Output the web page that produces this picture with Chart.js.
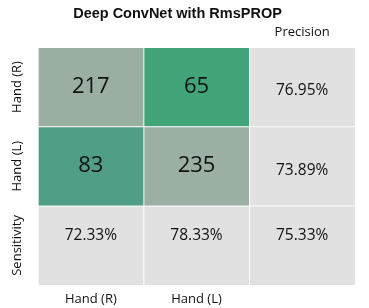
<!DOCTYPE html>
<html>
<head>
<meta charset="utf-8">
<script src="https://cdn.jsdelivr.net/npm/chart.js@4.4.0/dist/chart.umd.min.js"></script>
<style>
  html, body { margin: 0; padding: 0; background: #fff; }
  #wrap { width: 369px; height: 308px; }
</style>
</head>
<body>
<div id="wrap"><canvas id="cm"></canvas></div>
<script>
// ── Data ──
const rowLabels = ['Hand (R)', 'Hand (L)', 'Sensitivity'];
const colLabels = ['Hand (R)', 'Hand (L)', ''];
const topLabels = ['', '', 'Precision'];
const countsR = [217, 65];
const countsL = [83, 235];
const precision = [76.95, 73.89];
const sensitivity = [72.33, 78.33];
const accuracy = 75.33;

// cell fill per row (top to bottom)
const cellColors = [
  ['#9aafa2', '#42a57a', '#e1e1e1'],
  ['#519e88', '#9bafa3', '#e1e1e1'],
  ['#e1e1e1', '#e1e1e1', '#e1e1e1']
];

function cellText(row, col) {
  if (row < 2 && col < 2) return String(row === 0 ? countsR[col] : countsL[col]);
  if (row < 2) return precision[row].toFixed(2) + '%';
  if (col < 2) return sensitivity[col].toFixed(2) + '%';
  return accuracy.toFixed(2) + '%';
}

// stacked from bottom: dataset 0 = bottom row
const datasets = [2, 1, 0].map(row => ({
  label: rowLabels[row],
  data: colLabels.map(() => 1),
  backgroundColor: cellColors[row],
  borderColor: '#ffffff',
  borderWidth: { top: 1, left: 1, right: 0, bottom: 0 },
  borderSkipped: false,
  categoryPercentage: 1,
  barPercentage: 1,
  rowIndex: row
}));

const labelFont = '13px "Open Sans"';

// numbers inside cells
const cellLabels = {
  id: 'cellLabels',
  afterDatasetsDraw(chart) {
    const ctx = chart.ctx;
    ctx.save();
    ctx.fillStyle = '#111';
    ctx.textAlign = 'center';
    ctx.textBaseline = 'middle';
    chart.data.datasets.forEach((ds, di) => {
      const meta = chart.getDatasetMeta(di);
      meta.data.forEach((bar, col) => {
        const row = ds.rowIndex;
        const isCount = row < 2 && col < 2;
        ctx.font = isCount ? '22px "Open Sans"' : '15.5px "Open Sans"';
        let y = (bar.y + bar.base) / 2;
        if (row === 2) y -= 10;
        else if (col === 2) y += 4;
        ctx.fillText(cellText(row, col), bar.x, y);
      });
    });
    ctx.restore();
  }
};

// rotated row names, centred on the y scale ticks
const rowNames = {
  id: 'rowNames',
  afterDraw(chart) {
    const ctx = chart.ctx;
    const ys = chart.scales.y;
    ctx.save();
    ctx.fillStyle = '#111';
    ctx.font = labelFont;
    ctx.textAlign = 'center';
    ctx.textBaseline = 'middle';
    ys.ticks.forEach(t => {
      const y = ys.getPixelForValue(t.value);
      ctx.save();
      ctx.translate(ys.right - 21, y);
      ctx.rotate(-Math.PI / 2);
      ctx.fillText(rowLabels[2 - Math.floor(t.value)], 0, 0);
      ctx.restore();
    });
    ctx.restore();
  }
};

new Chart(document.getElementById('cm'), {
  type: 'bar',
  data: { labels: colLabels, datasets: datasets },
  options: {
    responsive: true,
    maintainAspectRatio: false,
    animation: false,
    layout: { padding: { left: 0, right: 14, top: 0, bottom: 0 } },
    plugins: {
      legend: { display: false },
      tooltip: { enabled: false },
      title: {
        display: true,
        text: 'Deep ConvNet with RmsPROP',
        color: '#111',
        font: { family: '"Liberation Sans", Arial', size: 14.5, weight: 'bold' },
        padding: { top: 5, bottom: 0 }
      }
    },
    scales: {
      x: {
        stacked: true,
        grid: { display: false, drawTicks: false },
        border: { display: false },
        afterFit: s => { s.height = 23; },
        ticks: { color: '#111', padding: 6, font: { family: '"Open Sans"', size: 13 } }
      },
      x2: {
        type: 'category',
        position: 'top',
        labels: topLabels,
        grid: { display: false, drawTicks: false },
        border: { display: false },
        afterFit: s => { s.height = 25; },
        ticks: { color: '#111', padding: 7, font: { family: '"Open Sans"', size: 13 } }
      },
      y: {
        stacked: true,
        min: 0,
        max: 3,
        afterBuildTicks: s => { s.ticks = [{ value: 0.5 }, { value: 1.5 }, { value: 2.5 }]; },
        afterFit: s => { s.width = 38; },
        grid: { display: false, drawTicks: false },
        border: { display: false },
        ticks: { display: false }
      }
    }
  },
  plugins: [cellLabels, rowNames]
});
</script>
</body>
</html>
